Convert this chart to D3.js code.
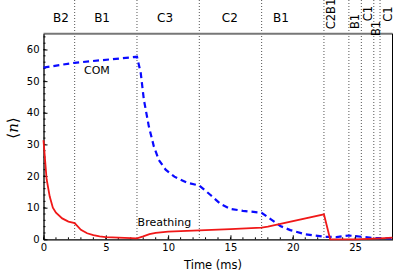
<!DOCTYPE html>
<html>
<head>
<meta charset="utf-8">
<script src="https://cdn.jsdelivr.net/npm/d3@7"></script>
<style>
  body { margin: 0; background: #fff; }
  svg { display: block; font-family: "DejaVu Sans", Verdana, sans-serif; }
</style>
</head>
<body>
<svg></svg>
<script>
// breathing mode occupation
var breathTime = [0, 0.25, 0.5, 0.75, 1.0, 1.5, 2.0, 2.5, 3.0, 3.5, 4.0, 4.5, 5.0, 6.0, 7.0, 7.5, 8.0, 8.5, 9.0, 10.0, 11.0, 12.5, 15.0, 17.5, 18.0, 22.5, 23.0, 25.0, 27.0, 28.0];
var breathValues = [31.3, 19, 13.5, 10, 8.4, 6.6, 5.6, 5.1, 3.0, 1.9, 1.3, 0.9, 0.7, 0.5, 0.35, 0.3, 0.9, 1.6, 2.0, 2.4, 2.6, 2.8, 3.2, 3.7, 4.0, 7.9, 0, 0, 0.3, 0.5];

// centre of mass occupation
var comTime = [0, 2.5, 7.5, 7.8, 8.05, 8.45, 8.85, 9.25, 9.8, 10.5, 11.5, 12.5, 13.4, 14.2, 15.0, 16.0, 17.5, 18.25, 19.0, 19.8, 21.0, 22.5, 23.5, 24.5, 25.5, 26.5, 28.0];
var comValues = [54.3, 55.8, 57.7, 52.6, 44.2, 35.7, 29.4, 25.1, 22.0, 19.8, 17.9, 17.0, 14.0, 11.2, 9.6, 9.0, 8.4, 6.3, 4.2, 2.9, 1.6, 0.8, 0.7, 1.2, 0.8, 0.4, 0.3];

// stage boundaries and their labels
var stageBounds = [2.5, 7.5, 12.5, 17.5, 22.5, 24.5, 25.5, 26.5, 27.0];
var stageNames = ["B2", "B1", "C3", "C2", "B1"];
var stageNameTime = [1.4, 4.7, 9.75, 14.95, 19.05];
var narrowNames = ["C2B1", "B1", "C1", "B1", "C1"];
var narrowNameTime = [23.1, 25.0, 26.0, 26.7, 27.6];
var narrowNameY = [14, 21.5, 13.5, 28.5, 14];

var xTicks = [0, 5, 10, 15, 20, 25];
var yTicks = [0, 10, 20, 30, 40, 50, 60];

var width = 415, height = 276,
    margin = {top: 33.7, right: 22.5, bottom: 36.7, left: 43.5},
    w = width - margin.left - margin.right,
    h = height - margin.top - margin.bottom;

var svg = d3.select("svg").attr("width", width).attr("height", height);
var g = svg.append("g").attr("transform", `translate(${margin.left},${margin.top})`);

var x = d3.scaleLinear().domain([0, 28]).range([0, w]);
var y = d3.scaleLinear().domain([0, 65]).range([h, 0]);

// dotted stage lines
g.selectAll(".stage")
  .data(stageBounds)
  .enter().append("line")
    .attr("x1", d => x(d)).attr("x2", d => x(d))
    .attr("y1", -margin.top).attr("y2", h)
    .attr("stroke", "#555")
    .attr("stroke-width", 1)
    .attr("stroke-dasharray", "1,2");

// frame top / right
g.append("line").attr("x1", 0).attr("x2", w).attr("y1", 0).attr("y2", 0)
  .attr("stroke", "#777").attr("stroke-width", 2);
g.append("line").attr("x1", w).attr("x2", w).attr("y1", 0).attr("y2", h)
  .attr("stroke", "#000").attr("stroke-width", 1);

// minor ticks
g.append("g").selectAll("line")
  .data(d3.range(0, 29, 1))
  .enter().append("line")
    .attr("x1", d => x(d)).attr("x2", d => x(d))
    .attr("y1", h).attr("y2", h - 2)
    .attr("stroke", "#000");
g.append("g").selectAll("line")
  .data(d3.range(0, 65, 2))
  .enter().append("line")
    .attr("y1", d => y(d)).attr("y2", d => y(d))
    .attr("x1", 0).attr("x2", 2)
    .attr("stroke", "#000");

var xAxis = g.append("g")
  .attr("transform", `translate(0,${h})`)
  .call(d3.axisBottom(x).tickValues(xTicks).tickSizeInner(-4).tickSizeOuter(0).tickPadding(5));
var yAxis = g.append("g")
  .call(d3.axisLeft(y).tickValues(yTicks).tickSizeInner(-4).tickSizeOuter(0).tickPadding(4));
[xAxis, yAxis].forEach(a => {
  a.selectAll("text").attr("font-size", 10).attr("font-family", "DejaVu Sans").attr("fill", "#000");
  a.select(".domain").attr("stroke-width", 1.3);
});

// series
var line = (xs, ys) => d3.line()
  .x((d, i) => x(xs[i]))
  .y(d => y(d))(ys);

g.append("path")
  .attr("d", line(comTime, comValues))
  .attr("fill", "none")
  .attr("stroke", "#0a0aff")
  .attr("stroke-width", 2.2)
  .attr("stroke-dasharray", "6,4");

g.append("path")
  .attr("d", line(breathTime, breathValues))
  .attr("fill", "none")
  .attr("stroke", "#f01818")
  .attr("stroke-width", 1.8);

// series labels
g.append("text").attr("x", x(3.25)).attr("y", y(52.4))
  .attr("font-size", 11).text("COM");
g.append("text").attr("x", x(7.55)).attr("y", y(4.3))
  .attr("font-size", 11).text("Breathing");

// stage labels
svg.selectAll(".sname")
  .data(stageNames)
  .enter().append("text")
    .attr("x", (d, i) => margin.left + x(stageNameTime[i]))
    .attr("y", 18)
    .attr("dy", "0.35em")
    .attr("text-anchor", "middle")
    .attr("font-size", 12)
    .text(d => d);

svg.selectAll(".nname")
  .data(narrowNames)
  .enter().append("text")
    .attr("transform", (d, i) => `translate(${margin.left + x(narrowNameTime[i])},${narrowNameY[i]}) rotate(-90)`)
    .attr("dy", "0.35em")
    .attr("text-anchor", "middle")
    .attr("font-size", 11.5)
    .text(d => d);

// axis titles
svg.append("text")
  .attr("x", margin.left + w / 2 - 5)
  .attr("y", 269)
  .attr("text-anchor", "middle")
  .attr("font-size", 11.5)
  .text("Time (ms)");

var yl = svg.append("text")
  .attr("transform", "translate(18,128) rotate(-90)")
  .attr("text-anchor", "middle")
  .attr("font-size", 15);
yl.append("tspan").text("\u27E8");
yl.append("tspan").attr("font-style", "italic").attr("font-family", "DejaVu Serif").text("n");
yl.append("tspan").text("\u27E9");
</script>
</body>
</html>
